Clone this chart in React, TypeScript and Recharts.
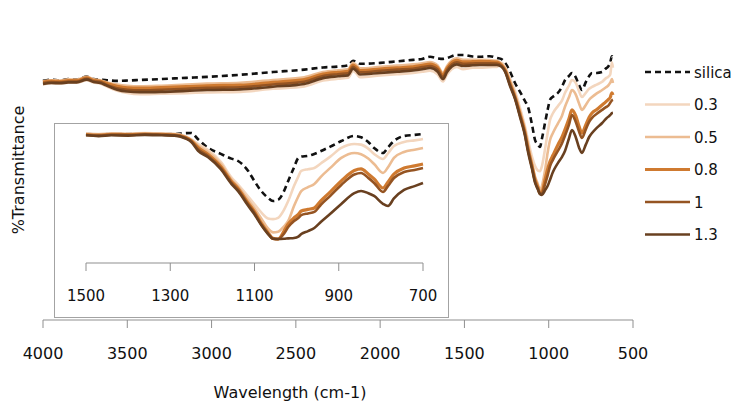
import React from "react";
import { LineChart, Line, XAxis, YAxis } from "recharts";

// wavenumber grid (cm-1) for the full spectrum
const waveMain = [
  4000, 3950, 3900, 3850, 3800, 3740, 3700, 3660, 3620, 3560, 3500, 3425, 3300,
  3150, 3027, 2830, 2636, 2450, 2339, 2250, 2190, 2161, 2140, 2120, 2000, 1900,
  1805, 1750, 1704, 1660, 1627, 1603, 1545, 1508, 1450, 1408, 1350, 1307, 1280,
  1259, 1230, 1200, 1170, 1141, 1123, 1099, 1081, 1064, 1052, 1040, 1022, 1006,
  992, 975, 945, 921, 903, 880, 862, 840, 820, 803, 780, 760, 743, 715, 683, 660,
  648, 635, 625, 619,
];
const silicaMain = [
  78.4, 78.8, 78.6, 79.0, 78.9, 79.8, 79.0, 78.8, 78.6, 78.4, 78.5, 78.7, 79.0,
  79.4, 79.7, 80.4, 81.3, 82.1, 82.8, 83.1, 83.5, 85.0, 84.6, 84.0, 84.3, 84.8,
  85.3, 85.6, 86.3, 85.8, 85.6, 85.9, 86.9, 86.9, 86.4, 86.3, 86.5, 85.9, 85.5,
  84.3, 81.5, 77.7, 74.8, 71.8, 69.9, 64.0, 59.0, 57.5, 56.7, 59.5, 64.6, 69.0,
  72.2, 73.2, 74.5, 76.5, 78.7, 80.0, 81.0, 79.6, 77.0, 75.4, 78.0, 80.0, 81.0,
  81.0, 81.3, 82.5, 83.0, 84.5, 86.5, 85.3,
];
const c03Main = [
  77.2, 77.6, 77.5, 77.8, 77.8, 78.6, 77.9, 77.5, 76.5, 75.2, 74.4, 74.0, 74.2,
  74.4, 74.6, 74.8, 75.8, 76.6, 78.5, 79.1, 79.4, 81.6, 80.8, 79.6, 80.2, 80.6,
  81.0, 81.4, 81.7, 80.6, 78.2, 80.5, 83.0, 82.2, 82.7, 82.7, 82.9, 83.0, 84.3,
  83.0, 79.2, 75.0, 69.5, 63.5, 59.0, 53.5, 50.5, 49.0, 48.8, 50.5, 56.0, 61.5,
  65.6, 67.8, 70.2, 72.0, 74.5, 76.8, 78.7, 77.8, 75.0, 73.1, 74.5, 75.8, 76.4,
  77.2, 78.1, 79.3, 79.7, 80.5, 84.5, 82.7,
];
const c05Main = [
  78.3, 78.6, 78.5, 78.9, 78.8, 79.7, 78.9, 78.6, 77.9, 77.2, 76.8, 76.6, 76.8,
  77.2, 77.5, 77.8, 78.7, 79.6, 81.3, 81.9, 82.2, 84.3, 83.5, 82.5, 83.0, 83.4,
  83.8, 84.2, 84.6, 83.5, 81.0, 83.3, 85.8, 85.3, 85.3, 85.3, 85.2, 85.0, 84.0,
  82.5, 78.4, 74.0, 68.4, 62.5, 57.5, 51.5, 47.0, 44.5, 42.3, 44.0, 49.0, 55.0,
  59.0, 61.3, 64.5, 67.0, 70.0, 73.0, 75.4, 74.0, 71.0, 68.9, 70.5, 72.2, 73.1,
  74.3, 75.4, 76.3, 76.8, 77.8, 79.0, 77.7,
];
const c08Main = [
  78.0, 78.3, 78.2, 78.5, 78.5, 79.4, 78.6, 78.3, 77.5, 76.6, 76.1, 76.0, 76.2,
  76.5, 76.8, 77.0, 77.9, 78.8, 80.6, 81.2, 81.5, 83.6, 82.8, 81.8, 82.3, 82.7,
  83.0, 83.5, 83.9, 82.8, 80.3, 82.6, 85.1, 84.6, 84.7, 84.8, 84.7, 84.6, 83.6,
  82.0, 77.6, 73.2, 67.5, 61.5, 56.3, 50.5, 46.0, 43.5, 41.6, 42.0, 46.0, 49.5,
  52.0, 54.0, 57.5, 60.0, 62.5, 66.0, 68.9, 67.0, 63.5, 61.3, 64.0, 66.5, 67.9,
  69.0, 70.5, 71.6, 72.2, 73.0, 74.5, 73.8,
];
const c1Main = [
  77.7, 78.0, 77.9, 78.2, 78.2, 79.1, 78.3, 78.0, 77.1, 76.0, 75.5, 75.3, 75.5,
  75.8, 76.1, 76.3, 77.2, 78.1, 80.0, 80.6, 80.9, 83.0, 82.2, 81.2, 81.7, 82.1,
  82.4, 82.9, 83.3, 82.2, 79.7, 82.0, 84.5, 84.0, 84.1, 84.2, 84.2, 84.1, 83.3,
  81.7, 77.2, 72.8, 67.0, 61.0, 55.8, 50.0, 45.4, 43.0, 41.3, 41.5, 44.5, 47.5,
  50.5, 52.5, 55.5, 58.0, 60.5, 64.0, 67.2, 65.0, 61.8, 59.7, 62.5, 65.0, 66.3,
  67.6, 68.9, 69.8, 70.2, 71.2, 72.0, 72.2,
];
const c13Main = [
  77.4, 77.7, 77.6, 77.9, 77.9, 78.8, 78.0, 77.7, 76.8, 75.5, 74.9, 74.7, 74.8,
  75.1, 75.4, 75.6, 76.5, 77.4, 79.3, 79.9, 80.2, 82.4, 81.6, 80.5, 81.0, 81.4,
  81.8, 82.2, 82.6, 81.5, 79.0, 81.3, 83.8, 83.3, 83.5, 83.6, 83.6, 83.6, 83.0,
  81.4, 76.8, 72.5, 66.5, 60.5, 55.2, 49.5, 45.0, 42.8, 41.3, 41.0, 42.5, 44.0,
  46.0, 48.5, 51.5, 53.5, 55.5, 59.5, 62.3, 60.0, 56.5, 54.8, 57.5, 60.0, 61.3,
  63.0, 64.6, 66.0, 66.6, 67.2, 67.8, 67.9,
];

// zoomed fingerprint region shown in the inset
const waveInset = [
  1500, 1470, 1440, 1400, 1360, 1320, 1290, 1265, 1250, 1234, 1210, 1180, 1155,
  1139, 1115, 1101, 1084, 1068, 1056, 1044, 1030, 1020, 1006, 996, 989, 973, 958,
  942, 920, 894, 863, 847, 830, 816, 795, 783, 769, 745, 720, 700,
];
const silicaInset = [
  97.2, 96.6, 97.3, 97.0, 97.5, 97.2, 97.0, 97.6, 97.8, 93.0, 86.5, 82.0, 78.5,
  76.7, 69.2, 62.0, 54.1, 49.0, 46.6, 47.5, 54.0, 61.7, 72.0, 79.0, 80.0, 80.5,
  82.0, 84.2, 87.5, 91.7, 95.5, 94.5, 91.0, 86.5, 82.7, 87.0, 91.7, 95.5, 96.3,
  97.0,
];
const c03Inset = [
  97.5, 97.0, 97.6, 97.3, 97.8, 97.5, 97.2, 95.5, 93.0, 89.5, 85.0, 76.0, 64.5,
  59.0, 50.0, 44.5, 38.0, 33.5, 33.0, 34.0, 40.0, 46.6, 58.0, 65.0, 69.2, 70.5,
  71.4, 75.0, 80.0, 86.5, 89.5, 89.0, 86.0, 82.0, 78.2, 82.5, 88.0, 91.0, 92.2,
  93.2,
];
const c05Inset = [
  97.0, 96.5, 97.1, 96.9, 97.3, 97.0, 96.8, 95.0, 92.5, 88.2, 83.5, 74.5, 63.0,
  57.5, 47.5, 41.5, 33.5, 26.0, 23.0, 23.5, 27.5, 31.6, 43.0, 50.0, 54.1, 57.0,
  59.4, 65.0, 71.5, 79.0, 82.7, 81.8, 78.5, 74.4, 67.7, 72.0, 79.0, 83.5, 85.2,
  86.5,
];
const c08Inset = [
  96.6, 96.1, 96.8, 96.5, 97.0, 96.7, 96.4, 94.6, 92.0, 86.8, 81.5, 72.5, 61.5,
  56.0, 45.0, 39.0, 30.0, 23.0, 18.5, 18.0, 24.0, 29.3, 34.0, 36.5, 39.1, 40.3,
  41.4, 47.0, 53.5, 61.7, 69.5, 70.7, 67.0, 63.2, 56.4, 61.0, 66.9, 71.4, 73.0,
  74.4,
];
const c1Inset = [
  96.3, 95.8, 96.4, 96.2, 96.7, 96.4, 96.1, 94.2, 91.5, 85.6, 80.5, 71.5, 60.5,
  55.0, 44.0, 38.0, 29.0, 22.2, 18.2, 18.0, 22.0, 27.0, 31.5, 33.8, 36.0, 37.3,
  38.4, 44.0, 50.5, 58.7, 66.5, 67.7, 64.0, 60.2, 53.4, 58.0, 63.9, 68.4, 70.0,
  71.4,
];
const c13Inset = [
  96.0, 95.4, 96.0, 95.8, 96.3, 96.0, 95.8, 93.8, 91.0, 84.4, 79.5, 70.5, 59.5,
  54.0, 43.0, 37.0, 28.5, 21.8, 18.2, 18.0, 18.2, 18.5, 18.8, 19.8, 21.8, 24.0,
  26.3, 31.0, 37.0, 44.4, 52.5, 54.1, 52.5, 50.4, 44.5, 42.9, 48.5, 54.9, 57.8,
  60.2,
];

const mainTicks = [4000, 3500, 3000, 2500, 2000, 1500, 1000, 500];
const insetTicks = [1500, 1300, 1100, 900, 700];

const series = [
  { key: "silica", name: "silica", color: "#111111", width: 2.6, dash: "6 4" },
  { key: "c03", name: "0.3", color: "#f3d6be", width: 2.6, dash: undefined },
  { key: "c05", name: "0.5", color: "#ecbc92", width: 2.6, dash: undefined },
  { key: "c08", name: "0.8", color: "#cf7a30", width: 3.2, dash: undefined },
  { key: "c1", name: "1", color: "#955422", width: 2.6, dash: undefined },
  { key: "c13", name: "1.3", color: "#694020", width: 2.6, dash: undefined },
];

const mainData = waveMain.map((w, i) => ({
  w,
  silica: silicaMain[i],
  c03: c03Main[i],
  c05: c05Main[i],
  c08: c08Main[i],
  c1: c1Main[i],
  c13: c13Main[i],
}));

const insetData = waveInset.map((w, i) => ({
  w,
  silica: silicaInset[i],
  c03: c03Inset[i],
  c05: c05Inset[i],
  c08: c08Inset[i],
  c1: c1Inset[i],
  c13: c13Inset[i],
}));

const FONT = "'DejaVu Sans', Verdana, sans-serif";
const AXIS = "#8f8f8f";

const renderLines = () =>
  series.map((s) => (
    <Line
      key={s.key}
      type="monotone"
      dataKey={s.key}
      stroke={s.color}
      strokeWidth={s.width}
      strokeDasharray={s.dash}
      dot={false}
      isAnimationActive={false}
    />
  ));

export default function App() {
  return (
    <div
      style={{
        position: "fixed",
        left: 0,
        top: 0,
        width: 739,
        height: 403,
        background: "#fff",
        fontFamily: FONT,
      }}
    >
      <LineChart
        width={739}
        height={403}
        data={mainData}
        margin={{ top: 15, right: 106, left: 43, bottom: 53 }}
      >
        <XAxis
          dataKey="w"
          type="number"
          domain={[500, 4000]}
          ticks={mainTicks}
          reversed
          height={30}
          tickSize={8}
          tickMargin={20}
          axisLine={{ stroke: AXIS }}
          tickLine={{ stroke: AXIS }}
          tick={{ fill: "#111", fontSize: 16, fontFamily: FONT }}
        />
        <YAxis
          domain={[0, 100]}
          width={0}
          tick={false}
          tickLine={false}
          axisLine={{ stroke: AXIS }}
        />
        {renderLines()}
      </LineChart>

      {/* inset: 1500-700 cm-1 */}
      <div
        style={{
          position: "absolute",
          left: 54,
          top: 123,
          width: 393,
          height: 193,
          border: "1px solid #a3a3a3",
          background: "#fff",
        }}
      >
        <LineChart
          width={393}
          height={193}
          data={insetData}
          margin={{ top: 6, right: 25, left: 31, bottom: 24 }}
        >
          <XAxis
            dataKey="w"
            type="number"
            domain={[700, 1500]}
            ticks={insetTicks}
            reversed
            height={30}
            tickSize={8}
            tickMargin={19}
            axisLine={{ stroke: AXIS }}
            tickLine={{ stroke: AXIS }}
            tick={{ fill: "#111", fontSize: 15, fontFamily: FONT }}
          />
          <YAxis
            domain={[0, 100]}
            width={0}
            tick={false}
            tickLine={false}
            axisLine={{ stroke: AXIS }}
          />
          {renderLines()}
        </LineChart>
      </div>

      <svg
        width={739}
        height={403}
        style={{ position: "absolute", left: 0, top: 0, pointerEvents: "none" }}
      >
        <text
          x={290}
          y={398}
          textAnchor="middle"
          fontSize={16}
          fontFamily={FONT}
          fill="#111"
        >
          Wavelength (cm-1)
        </text>
        <text
          transform="translate(24,170) rotate(-90)"
          textAnchor="middle"
          fontSize={16}
          fontFamily={FONT}
          fill="#111"
        >
          %Transmittance
        </text>
        {series.map((s, i) => {
          const y = 72 + i * 32.5;
          return (
            <g key={s.key}>
              <line
                x1={645}
                x2={690}
                y1={y}
                y2={y}
                stroke={s.color}
                strokeWidth={s.width}
                strokeDasharray={s.dash}
              />
              <text
                x={694}
                y={y + 5.5}
                fontSize={15}
                fontFamily={FONT}
                fill="#111"
              >
                {s.name}
              </text>
            </g>
          );
        })}
      </svg>
    </div>
  );
}
